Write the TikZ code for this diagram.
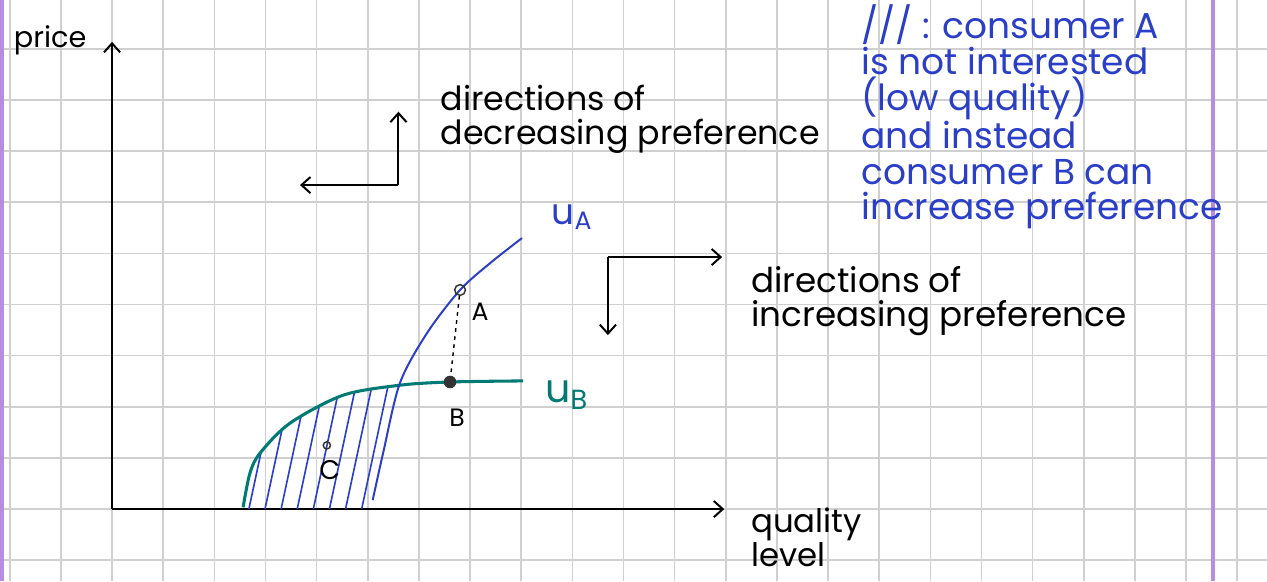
\documentclass[tikz,border=0pt]{standalone}
\usepackage{fontspec}
\setmainfont{Poppins}
\usepackage{xcolor}
\usepackage{tikz}
\usetikzlibrary{arrows.meta}

\definecolor{penblue}{RGB}{42,62,200}
\definecolor{penteal}{RGB}{0,122,116}
\definecolor{marginline}{RGB}{184,140,222}
\definecolor{gridgray}{RGB}{208,208,208}

\begin{document}
\begin{tikzpicture}[x=0.7cm, y=0.7cm, >={Straight Barb[length=5pt,width=9pt]},
    handtext/.style={font=\fontsize{18.5}{19}\selectfont, align=left, anchor=west},
    openpt/.style={circle, draw=black!80, inner sep=0pt, minimum size=6pt, line width=0.8pt},
    fillpt/.style={circle, fill=black!80, inner sep=0pt, minimum size=7pt}]
    \useasboundingbox (-3.13,-2.01) rectangle (32.26,14.22);
    \fill[white] (-3.13,-2.01) rectangle (32.26,14.22);

    % squared paper
    \draw[gridgray, line width=0.9pt] (-3.13,-2.01) grid (32.26,14.22);
    \draw[marginline, line width=2pt] (-3.07,-2.01) -- (-3.07,14.22);
    \draw[marginline, line width=2pt] (30.75,-2.01) -- (30.75,14.22);

    % axes
    \coordinate (O) at (0,0);
    \coordinate (ytop) at (0,13.05);
    \coordinate (xend) at (17.1,0);
    \draw[->, line width=1.1pt] (O) -- (ytop);
    \draw[->, line width=1.1pt] (O) -- (xend);
    \node[font=\fontsize{16}{16}\selectfont] (pricelbl) at (-1.73,13.1) {price};
    \node[handtext, font=\fontsize{18}{16.5}\selectfont] (qlbl) at (17.68,-0.78) {quality\\level};

    % decreasing preference
    \coordinate (dec) at (8,9.05);
    \coordinate (decup) at (8,11.1);
    \coordinate (decleft) at (5.25,9.05);
    \draw[->, line width=1.1pt] (dec) -- (decup);
    \draw[->, line width=1.1pt] (dec) -- (decleft);
    \node[handtext] (declbl) at (9.0,10.88) {directions of\\decreasing preference};

    % increasing preference
    \coordinate (inc) at (13.85,7.04);
    \coordinate (incright) at (17.04,7.04);
    \coordinate (incdown) at (13.85,4.86);
    \draw[->, line width=1.1pt] (inc) -- (incright);
    \draw[->, line width=1.1pt] (inc) -- (incdown);
    \node[handtext, font=\fontsize{19}{19}\selectfont] (inclbl) at (17.68,5.8) {directions of\\increasing preference};

    % hatched region C
    \begin{scope}
        \clip plot[smooth] coordinates {(3.66,0.05) (3.85,1.0) (4.13,1.56) (4.97,2.4) (6.45,3.18) (8.04,3.46)}
            -- plot[smooth] coordinates {(8.04,3.5) (7.57,1.56) (7.28,0.25)} -- (7.28,0) -- (3.66,0) -- cycle;
        \foreach \h in {2.9,3.35,...,7.9}
            \draw[penblue, line width=0.9pt] (\h,-0.1) -- ++(0.9,4.2);
    \end{scope}
    \node[openpt, minimum size=4pt] (Cpt) at (6.0,1.78) {};
    \node[font=\fontsize{15}{15}\selectfont] (Clbl) at (6.08,1.08) {C};

    % u_B
    \draw[penteal, line width=1.7pt] plot[smooth] coordinates {(3.66,0.05) (3.85,1.0) (4.13,1.56) (4.97,2.4) (6.45,3.18) (8.04,3.46) (9.44,3.55) (11.48,3.58)};
    \node[penteal, font=\fontsize{22}{22}\selectfont] (uBlbl) at (12.7,3.18) {u\textsubscript{B}};

    % u_A
    \draw[penblue, line width=1.1pt] plot[smooth] coordinates {(7.28,0.25) (7.57,1.56) (8.04,3.52) (8.8,4.92) (9.72,6.12) (10.56,6.87) (11.45,7.57)};
    \node[penblue, font=\fontsize{20}{20}\selectfont] (uAlbl) at (12.85,8.16) {u\textsubscript{A}};

    % points A and B
    \node[openpt] (A) at (9.72,6.12) {};
    \node[fillpt] (B) at (9.44,3.55) {};
    \draw[dash pattern=on 2pt off 2.5pt, line width=0.8pt] (A) -- (B);
    \node[font=\fontsize{14}{14}\selectfont] (Albl) at (10.28,5.5) {A};
    \node[font=\fontsize{14}{14}\selectfont] (Blbl) at (9.64,2.54) {B};

    % note
    \node[handtext, penblue, font=\fontsize{20}{19.8}\selectfont] (note) at (20.75,10.95)
        {/// : consumer A\\is not interested\\(low quality)\\and instead\\consumer B can\\increase preference};
\end{tikzpicture}
\end{document}
